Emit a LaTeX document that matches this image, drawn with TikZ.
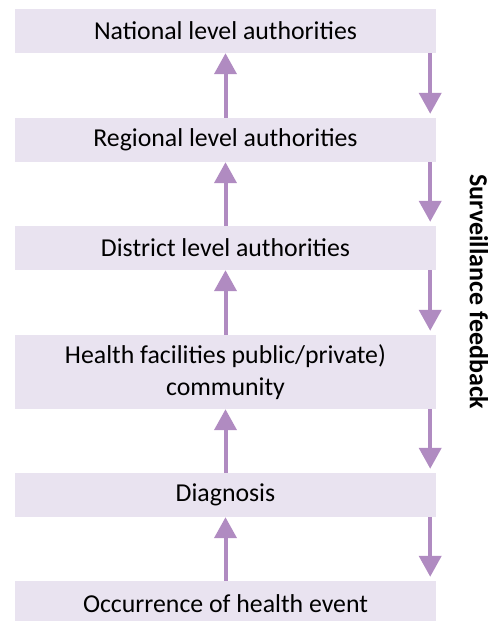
\documentclass[tikz,border=0pt]{standalone}
\usepackage{fontspec}
\setmainfont{Carlito}
\usetikzlibrary{arrows.meta}
\definecolor{boxfill}{RGB}{233,227,240}
\definecolor{arrowpurple}{RGB}{176,139,193}

\begin{document}
\begin{tikzpicture}[x=1pt, y=1pt,
        levelbox/.style={fill=boxfill, minimum width=421pt, minimum height=44pt, inner sep=0pt, align=center, font=\fontsize{25.8}{32}\selectfont},
        uparrow/.style={line width=4pt, arrowpurple, -{Triangle[width=22pt, length=21pt]}},
        downarrow/.style={line width=4pt, arrowpurple, -{Triangle[width=22pt, length=21pt]}, shorten >=4pt}]
        \useasboundingbox (0,0) rectangle (492,621);

        % Boxes
        \node[levelbox] (nat) at (225.5,590) {National level authorities};
        \node[levelbox] (reg) at (225.5,481) {Regional level authorities};
        \node[levelbox] (dist) at (225.5,373) {District level authorities};
        \node[levelbox, minimum height=74pt] (hf) at (225.5,249) {Health facilities public/private)\\community};
        \node[levelbox] (diag) at (225.5,126) {Diagnosis};
        \node[levelbox, minimum height=46pt] (occ) at (225.5,17) {Occurrence of health event};

        % Reporting
        \draw[uparrow] (reg.north) -- (nat.south);
        \draw[uparrow] (dist.north) -- (reg.south);
        \draw[uparrow] (hf.north) -- (dist.south);
        \draw[uparrow] (diag.north) -- (hf.south);
        \draw[uparrow] (occ.north) -- (diag.south);

        % Feedback
        \draw[downarrow] ([xshift=-6pt]nat.south east) -- ([xshift=-6pt]reg.north east);
        \draw[downarrow] ([xshift=-6pt]reg.south east) -- ([xshift=-6pt]dist.north east);
        \draw[downarrow] ([xshift=-6pt]dist.south east) -- ([xshift=-6pt]hf.north east);
        \draw[downarrow] ([xshift=-6pt]hf.south east) -- ([xshift=-6pt]diag.north east);
        \draw[downarrow] ([xshift=-6pt]diag.south east) -- ([xshift=-6pt]occ.north east);

        \node[rotate=-90, font=\fontsize{26}{30}\selectfont\bfseries] (fb) at (479,329) {Surveillance feedback};
\end{tikzpicture}
\end{document}
